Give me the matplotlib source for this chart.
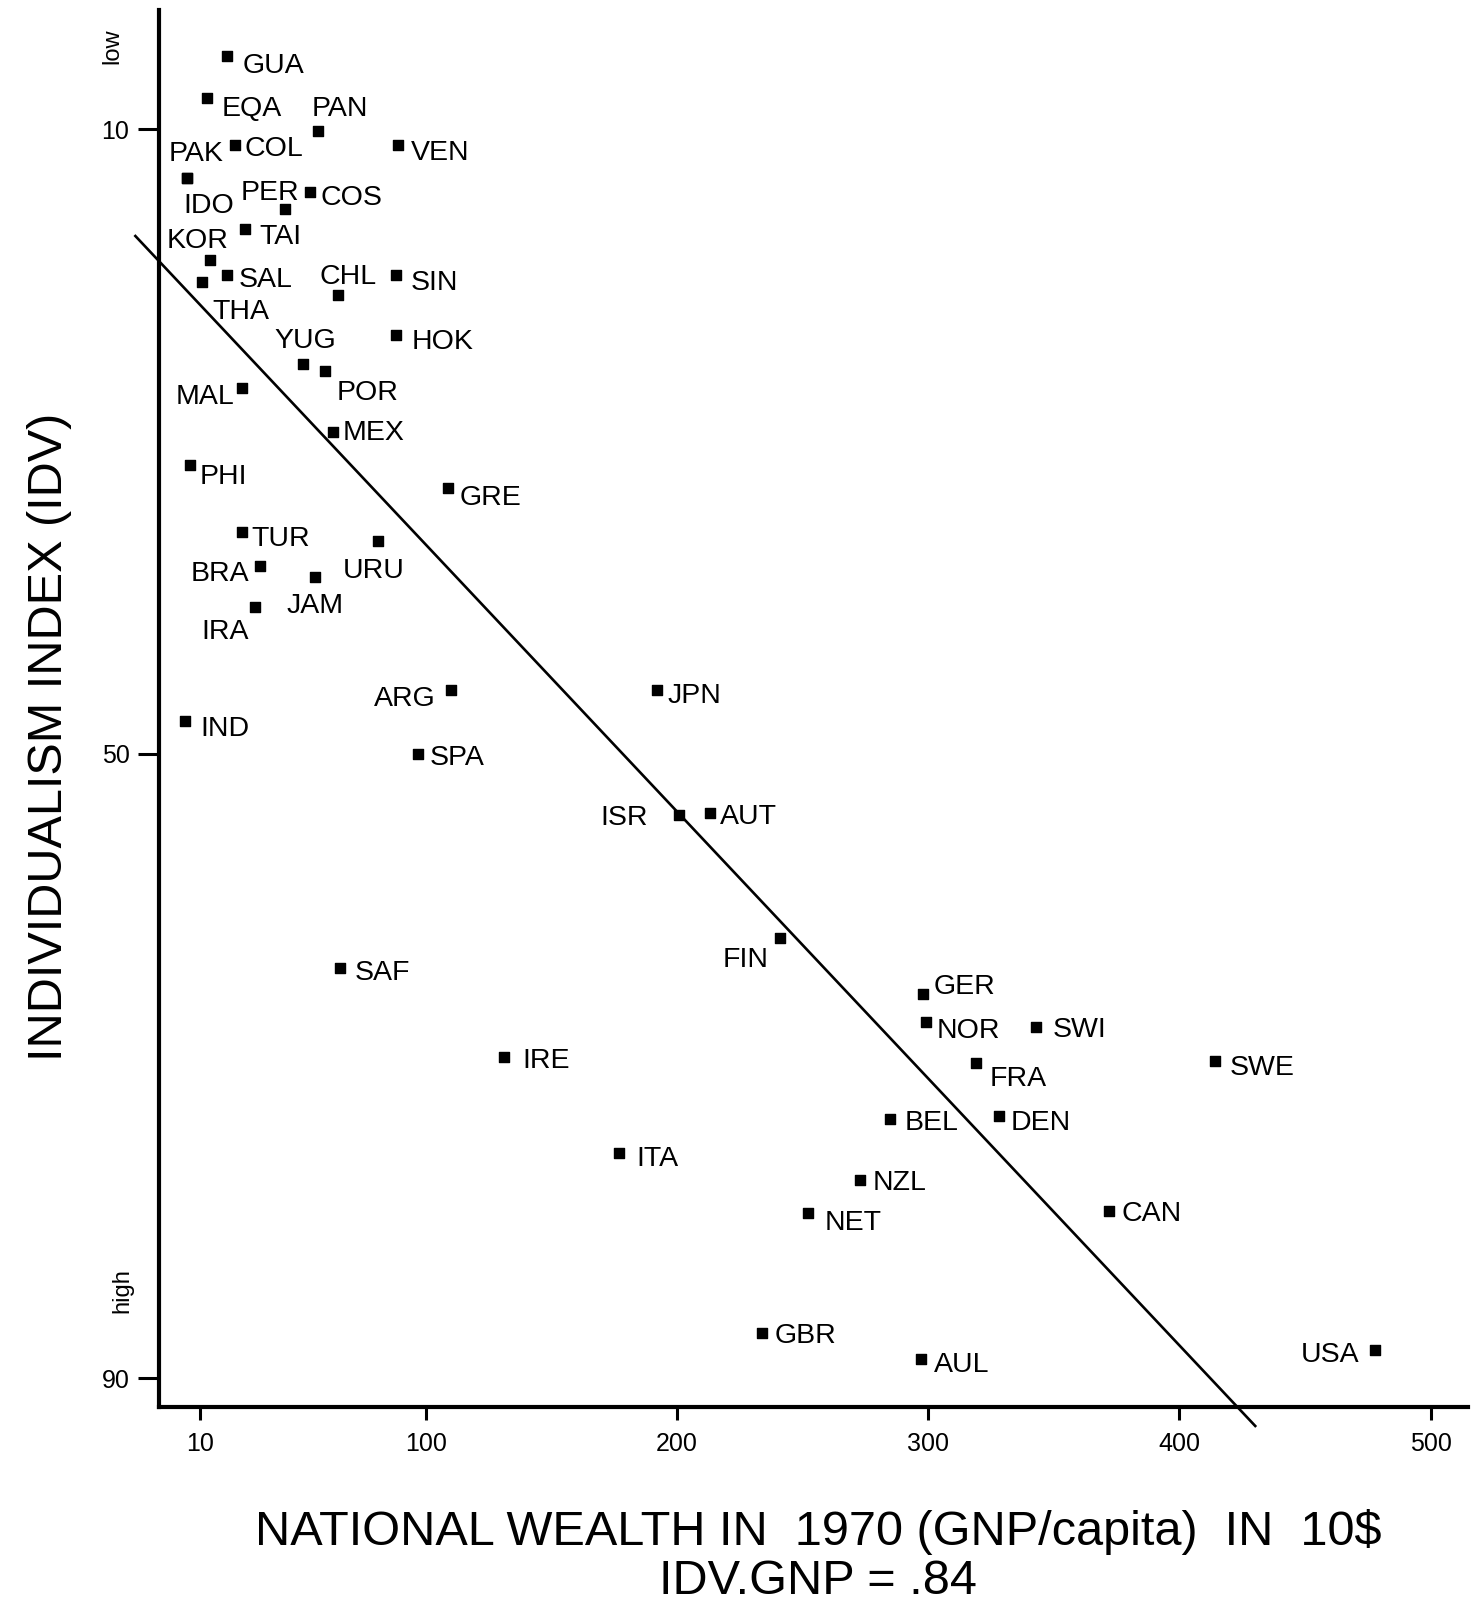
import numpy as np
import matplotlib
matplotlib.use("Agg")
import matplotlib.pyplot as plt
from matplotlib import font_manager

# country codes, GNP per capita in 1970 (in 10$) and individualism index (IDV)
countries = ["GUA", "EQA", "PAN", "COL", "VEN", "PAK", "IDO", "COS", "PER", "TAI",
             "KOR", "SAL", "THA", "CHL", "SIN", "HOK", "YUG", "POR", "MAL", "MEX",
             "PHI", "GRE", "TUR", "URU", "BRA", "JAM", "IRA", "ARG", "JPN", "IND",
             "SPA", "ISR", "AUT", "FIN", "SAF", "GER", "NOR", "SWI", "IRE", "FRA",
             "SWE", "BEL", "DEN", "ITA", "NZL", "NET", "CAN", "GBR", "AUL", "USA"]
gnp = [21, 13, 57, 24, 89, 5, 5, 54, 44, 28,
       14, 21, 11, 65, 88, 88, 51, 60, 27, 63,
       6, 109, 27, 81, 34, 56, 32, 110, 192, 4,
       97, 201, 213, 241, 66, 298, 299, 343, 131, 319,
       414, 285, 328, 177, 273, 252, 372, 234, 297, 478]
idv = [5.3, 8.0, 10.1, 11.0, 11.0, 13.1, 13.1, 14.0, 15.1, 16.4,
       18.4, 19.3, 19.8, 20.6, 19.3, 23.2, 25.0, 25.5, 26.6, 29.4,
       31.5, 33.0, 35.8, 36.4, 38.0, 38.7, 40.6, 45.9, 45.9, 47.9,
       50.0, 53.9, 53.8, 61.8, 63.7, 65.4, 67.2, 67.5, 69.4, 69.8,
       69.7, 73.4, 73.2, 75.6, 77.3, 79.4, 79.3, 87.1, 88.8, 88.2]

# regression line IDV = a + b * GNP
fit_intercept = 19.5
fit_slope = 0.171
fit_range = [-15.6, 430.2]

x_ticks = [10, 100, 200, 300, 400, 500]
y_ticks = [10, 50, 90]

# label placement: offset of label centre from marker (px, y down) and alignment
label_pos = {
    "GUA": (15, 7, "left"), "EQA": (14, 7, "left"), "PAN": (22, -25, "center"),
    "COL": (9, 1, "left"), "VEN": (12, 5, "left"), "PAK": (9, -26, "center"),
    "IDO": (21, 24, "center"), "COS": (10, 3, "left"), "PER": (-15, -19, "center"),
    "TAI": (14, 4, "left"), "KOR": (-12, -22, "center"), "SAL": (11, 2, "left"),
    "THA": (10, 26, "left"), "CHL": (10, -21, "center"), "SIN": (15, 5, "left"),
    "HOK": (16, 3, "left"), "YUG": (3, -25, "center"), "POR": (11, 18, "left"),
    "MAL": (-8, 5, "right"), "MEX": (10, -2, "left"), "PHI": (10, 9, "left"),
    "GRE": (11, 6, "left"), "TUR": (9, 4, "left"), "URU": (-4, 26, "center"),
    "BRA": (-10, 4, "right"), "JAM": (0, 25, "center"), "IRA": (-6, 21, "right"),
    "ARG": (-15, 6, "right"), "JPN": (10, 3, "left"), "IND": (15, 5, "left"),
    "SPA": (11, 1, "left"), "ISR": (-31, 0, "right"), "AUT": (10, 1, "left"),
    "FIN": (-11, 18, "right"), "SAF": (14, 2, "left"), "GER": (10, -10, "left"),
    "NOR": (11, 5, "left"), "SWI": (16, 0, "left"), "IRE": (18, 1, "left"),
    "FRA": (13, 13, "left"), "SWE": (15, 3, "left"), "BEL": (14, 1, "left"),
    "DEN": (12, 4, "left"), "ITA": (17, 2, "left"), "NZL": (12, 0, "left"),
    "NET": (17, 7, "left"), "CAN": (12, 0, "left"), "GBR": (12, 0, "left"),
    "AUL": (13, 2, "left"), "USA": (-16, 2, "right"),
}

installed = {f.name for f in font_manager.fontManager.ttflist}
narrow = "Liberation Sans Narrow" if "Liberation Sans Narrow" in installed else "Liberation Sans"
label_size = 24 if narrow == "Liberation Sans Narrow" else 20.5
plt.rcParams["font.family"] = ["Liberation Sans", "DejaVu Sans"]

S = 1474 / 1441  # offsets were measured on the shrunk reference

fig = plt.figure(figsize=(14.74, 16.04), dpi=100)
ax = fig.add_axes([0.1076, 0.123, 0.888, 0.8706])

ax.scatter(gnp, idv, marker="s", s=60, color="black", zorder=3, clip_on=False)
fit_x = np.array(fit_range)
ax.plot(fit_x, fit_intercept + fit_slope * fit_x, color="black", lw=1.9, clip_on=False)

for name, x, y in zip(countries, gnp, idv):
    dx, dy, ha = label_pos[name]
    ax.annotate(name, (x, y), xytext=(dx * S, -(dy + 10) * S), textcoords="offset pixels",
                ha=ha, va="baseline", fontsize=label_size, family=narrow)

ax.set_xlim(-6.35, 514.7)
ax.set_ylim(91.83, 2.37)
ax.spines["top"].set_visible(False)
ax.spines["right"].set_visible(False)
ax.spines["left"].set_linewidth(3)
ax.spines["bottom"].set_linewidth(3)

ax.set_xticks(x_ticks)
ax.set_yticks(y_ticks)
ax.tick_params(axis="y", length=15, width=2.2, pad=6, labelsize=18)
ax.tick_params(axis="x", length=9, width=2.2, pad=9, labelsize=18)

ax.set_ylabel("INDIVIDUALISM INDEX (IDV)", fontsize=35)
ax.yaxis.set_label_coords(-0.066, 0.48)
ax.set_xlabel("NATIONAL WEALTH IN  1970 (GNP/capita)  IN  10$\nIDV.GNP = .84",
              fontsize=35, linespacing=1.12)
ax.xaxis.set_label_coords(0.504, -0.073)

fig.text(110 / 1441, 1 - 45 / 1568, "low", rotation=90, fontsize=17, ha="center", va="center")
fig.text(120 / 1441, 1 - 1262 / 1568, "high", rotation=90, fontsize=17, ha="center", va="center")

fig.savefig("out.png", dpi=100)
